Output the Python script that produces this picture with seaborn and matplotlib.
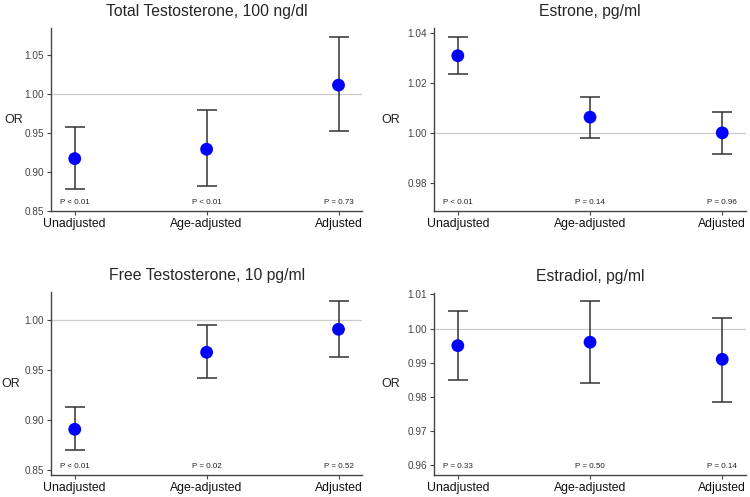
import numpy as np
import pandas as pd
import seaborn as sns
import matplotlib.pyplot as plt

sns.set_style("white")
plt.rcParams['font.family'] = ['Liberation Sans', 'DejaVu Sans']

models = ["Unadjusted", "Age-adjusted", "Adjusted"]

titles = ["Total Testosterone, 100 ng/dl", "Estrone, pg/ml",
          "Free Testosterone, 10 pg/ml", "Estradiol, pg/ml"]

or_total_t = [0.917, 0.929, 1.011]
lo_total_t = [0.878, 0.882, 0.952]
hi_total_t = [0.957, 0.979, 1.072]
p_total_t = ["P < 0.01", "P < 0.01", "P = 0.73"]

or_estrone = [1.031, 1.0063, 1.000]
lo_estrone = [1.0235, 0.998, 0.9915]
hi_estrone = [1.0385, 1.0145, 1.0085]
p_estrone = ["P < 0.01", "P = 0.14", "P = 0.96"]

or_free_t = [0.891, 0.968, 0.991]
lo_free_t = [0.870, 0.942, 0.963]
hi_free_t = [0.913, 0.995, 1.019]
p_free_t = ["P < 0.01", "P = 0.02", "P = 0.52"]

or_estradiol = [0.995, 0.996, 0.991]
lo_estradiol = [0.985, 0.984, 0.9785]
hi_estradiol = [1.0052, 1.008, 1.0032]
p_estradiol = ["P = 0.33", "P = 0.50", "P = 0.14"]

yticks = [[0.85, 0.90, 0.95, 1.00, 1.05],
          [0.98, 1.00, 1.02, 1.04],
          [0.85, 0.90, 0.95, 1.00],
          [0.96, 0.97, 0.98, 0.99, 1.00, 1.01]]
ylims = [(0.85, 1.084), (0.9686, 1.0421), (0.8453, 1.028), (0.9572, 1.0103)]

panels = [(or_total_t, lo_total_t, hi_total_t, p_total_t),
          (or_estrone, lo_estrone, hi_estrone, p_estrone),
          (or_free_t, lo_free_t, hi_free_t, p_free_t),
          (or_estradiol, lo_estradiol, hi_estradiol, p_estradiol)]

rects = [[0.068, 0.5755, 0.415, 0.368],
         [0.5787, 0.5755, 0.416, 0.368],
         [0.068, 0.0443, 0.415, 0.3676],
         [0.5787, 0.0443, 0.416, 0.3656]]
label_x = [-0.119, -0.139, -0.129, -0.138]

fig = plt.figure(figsize=(7.5, 4.97), dpi=100)

for i, (est, lo, hi, pvals) in enumerate(panels):
    ax = fig.add_axes(rects[i])
    df = pd.DataFrame({"model": models, "OR": est, "lo": lo, "hi": hi})
    pos = np.arange(len(models))
    ax.axhline(1.0, color="#cccccc", lw=0.9, zorder=0)
    ax.errorbar(pos, df["OR"], yerr=[df["OR"] - df["lo"], df["hi"] - df["OR"]],
                fmt="none", ecolor="#333333", elinewidth=1.1, capsize=7.2,
                capthick=1.1, zorder=2)
    sns.scatterplot(x=pos, y=df["OR"], ax=ax, color="#0000ff", s=85,
                    edgecolor="none", zorder=3)
    for j, p in enumerate(pvals):
        ax.text(pos[j], 0.045, p, transform=ax.get_xaxis_transform(),
                ha="center", va="center", fontsize=5.8, color="#222222")
    ax.set_xlim(-0.18, 2.18)
    ax.set_ylim(*ylims[i])
    ax.set_xticks(pos)
    ax.set_xticklabels(models, fontsize=8.8, color="#111111")
    ax.set_yticks(yticks[i])
    ax.set_yticklabels(["{:.2f}".format(v) for v in yticks[i]],
                       fontsize=7.2, color="#444444")
    ax.tick_params(axis="both", length=3, width=0.8, color="#444444",
                   direction="out", pad=2, bottom=True, left=True)
    ax.set_xlabel("")
    ax.set_ylabel("OR", rotation=0, fontsize=9, color="#222222",
                  ha="center", va="center")
    ax.yaxis.set_label_coords(label_x[i], 0.5)
    ax.set_title(titles[i], fontsize=11.3, pad=9)
    sns.despine(ax=ax)
    for s in ["left", "bottom"]:
        ax.spines[s].set_color("#444444")
        ax.spines[s].set_linewidth(1.0)

plt.savefig("out.png", dpi=100)
